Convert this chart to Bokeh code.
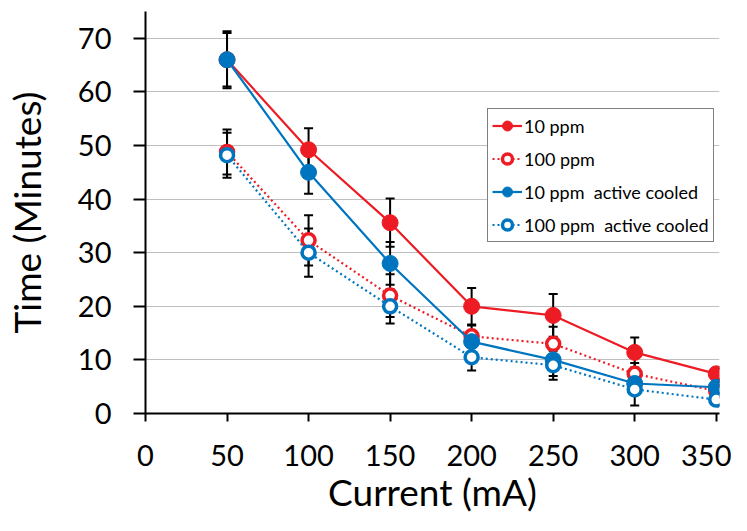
from bokeh.plotting import figure
from bokeh.models import ColumnDataSource, Whisker, TeeHead, FixedTicker, Legend, LegendItem, Range1d
from bokeh.embed import file_html
from bokeh.resources import INLINE

current = [50, 100, 150, 200, 250, 300, 350]
ppm10 = [66.0, 49.2, 35.6, 20.0, 18.3, 11.4, 7.4]
ppm10_err = [5.0, 4.0, 4.5, 3.4, 4.0, 2.8, 1.0]
ppm100 = [48.8, 32.3, 22.0, 14.4, 13.0, 7.4, 4.2]
ppm100_err = [4.2, 4.7, 4.0, 2.0, 3.2, 2.0, 1.0]
ppm10_cool = [66.0, 45.0, 28.0, 13.4, 10.0, 5.6, 4.9]
ppm10_cool_err = [5.3, 4.0, 4.0, 2.0, 3.0, 2.0, 1.0]
ppm100_cool = [48.2, 30.0, 20.0, 10.5, 9.0, 4.5, 2.6]
ppm100_cool_err = [4.2, 4.5, 3.2, 2.5, 2.7, 3.0, 1.0]
series_names = ["10 ppm", "100 ppm", "10 ppm  active cooled", "100 ppm  active cooled"]
x_ticks = [0, 50, 100, 150, 200, 250, 300, 350]
y_ticks = [0, 10, 20, 30, 40, 50, 60, 70]

RED = "#ED1C24"
BLUE = "#0075BF"
FONT = "Lato"

p = figure(width=731, height=523, output_backend="svg", toolbar_location=None,
           x_range=Range1d(0, 352), y_range=Range1d(0, 75),
           min_border_left=142, min_border_right=12, min_border_top=11, min_border_bottom=110)
p.outline_line_color = None
p.background_fill_color = "white"

# grid
p.xgrid.visible = False
p.ygrid.ticker = FixedTicker(ticks=y_ticks)
p.ygrid.grid_line_color = "#BFBFBF"
p.ygrid.grid_line_width = 1.2

# axes
for ax in (p.xaxis[0], p.yaxis[0]):
    ax.axis_line_color = "black"
    ax.axis_line_width = 2
    ax.major_tick_line_color = "black"
    ax.major_tick_line_width = 2
    ax.major_tick_in = 0
    ax.minor_tick_line_color = None
    ax.major_label_text_font = FONT
    ax.major_label_text_font_size = "29px"
    ax.major_label_text_color = "black"
    ax.axis_label_text_font = FONT
    ax.axis_label_text_font_size = "37px"
    ax.axis_label_text_font_style = "normal"
    ax.axis_label_text_color = "black"

p.xaxis.ticker = FixedTicker(ticks=x_ticks)
p.yaxis.ticker = FixedTicker(ticks=y_ticks)
p.xaxis.major_tick_out = 8
p.yaxis.major_tick_out = 12
p.xaxis.major_label_standoff = 23
p.yaxis.major_label_standoff = 22
p.xaxis.axis_label = "Current (mA)"
p.yaxis.axis_label = "Time (Minutes)"
p.xaxis.axis_label_standoff = 0
p.yaxis.axis_label_standoff = 26

specs = [
    (ppm10, ppm10_err, RED, True, "solid"),
    (ppm100, ppm100_err, RED, False, "2 3"),
    (ppm10_cool, ppm10_cool_err, BLUE, True, "solid"),
    (ppm100_cool, ppm100_cool_err, BLUE, False, "2 3"),
]

# error bars (under the marks)
for vals, errs, color, filled, dash in specs:
    src = ColumnDataSource(dict(x=current,
                                upper=[v + e for v, e in zip(vals, errs)],
                                lower=[v - e for v, e in zip(vals, errs)]))
    w = Whisker(base="x", upper="upper", lower="lower", source=src, dimension="height",
                line_color="black", line_width=2, level="underlay",
                upper_head=TeeHead(size=9, line_color="black", line_width=2),
                lower_head=TeeHead(size=9, line_color="black", line_width=2))
    p.add_layout(w)

items = []
for (vals, errs, color, filled, dash), name in zip(specs, series_names):
    src = ColumnDataSource(dict(x=current, y=vals))
    lr = p.line("x", "y", source=src, line_color=color, line_width=2.2, line_dash=dash)
    if filled:
        sr = p.scatter("x", "y", source=src, marker="circle", size=16,
                       fill_color=color, line_color=color, line_width=1)
    else:
        sr = p.scatter("x", "y", source=src, marker="circle", size=13,
                       fill_color="white", line_color=color, line_width=3.5)
    items.append(LegendItem(label=name, renderers=[lr, sr]))

legend = Legend(items=items, location=(342, 171),
                label_text_font=FONT, label_text_font_size="18px", label_text_color="black",
                glyph_width=30, glyph_height=25, label_height=25, label_standoff=2,
                spacing=8, padding=4, margin=0,
                border_line_color="black", border_line_width=1.2,
                background_fill_color="white", background_fill_alpha=1.0)
p.add_layout(legend)

open("out.html", "w").write(file_html(p, INLINE))
